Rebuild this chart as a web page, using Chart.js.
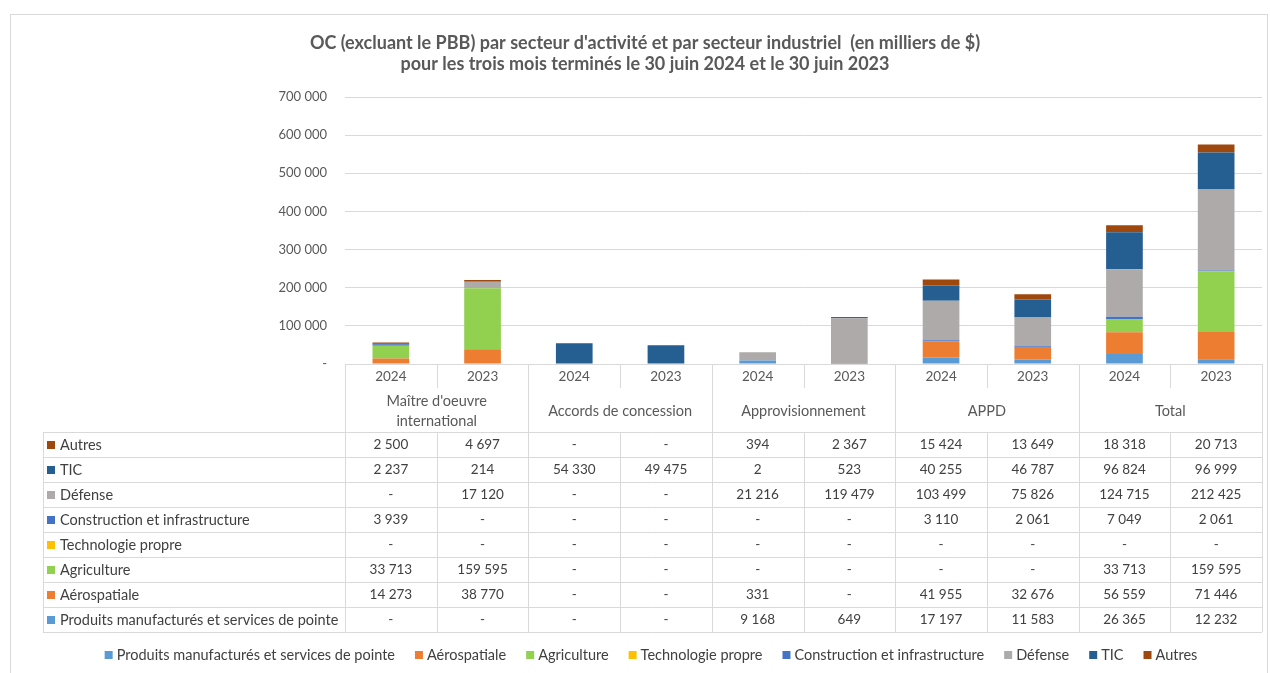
<!DOCTYPE html>
<html><head><meta charset="utf-8">
<script src="https://cdn.jsdelivr.net/npm/chart.js@4.4.1/dist/chart.umd.min.js"></script>
<style>html,body{margin:0;padding:0;background:#fff;overflow:hidden}#wrap{width:1270px;height:673px;position:relative}</style>
</head><body><div id="wrap"><canvas id="c" width="1270" height="673"></canvas></div>
<script>
const FONT = 'Lato, "Open Sans", sans-serif';
const years = ['2024','2023','2024','2023','2024','2023','2024','2023','2024','2023'];
const groups = [['Maître d\'oeuvre','international'],['Accords de concession'],['Approvisionnement'],['APPD'],['Total']];
const yTicks = [0,100000,200000,300000,400000,500000,600000,700000];
const titleLines = ['OC (excluant le PBB) par secteur d\'activité et par secteur industriel  (en milliers de $)','pour les trois mois terminés le 30 juin 2024 et le 30 juin 2023'];

const seriesNames = ['Produits manufacturés et services de pointe','Aérospatiale','Agriculture','Technologie propre','Construction et infrastructure','Défense','TIC','Autres'];
const seriesColors = ['#5B9BD5','#ED7D31','#92D050','#FFC000','#4472C4','#AEAAAA','#255E91','#9E480E'];

const produits     = [0,0,0,0,9168,649,17197,11583,26365,12232];
const aerospatiale = [14273,38770,0,0,331,0,41955,32676,56559,71446];
const agriculture  = [33713,159595,0,0,0,0,0,0,33713,159595];
const techPropre   = [0,0,0,0,0,0,0,0,0,0];
const construction = [3939,0,0,0,0,0,3110,2061,7049,2061];
const defense      = [0,17120,0,0,21216,119479,103499,75826,124715,212425];
const tic          = [2237,214,54330,49475,2,523,40255,46787,96824,96999];
const autres       = [2500,4697,0,0,394,2367,15424,13649,18318,20713];
const seriesData = [produits,aerospatiale,agriculture,techPropre,construction,defense,tic,autres];

function fmt(v){ if(!v) return '-'; return String(v).replace(/\B(?=(\d{3})+(?!\d))/g,' '); }

const datasets = seriesNames.map((n,i)=>({label:n,data:seriesData[i],backgroundColor:seriesColors[i],borderWidth:0,barPercentage:0.4,categoryPercentage:1}));

const TEXT = '#404040', AXIS = '#595959', GRID = '#D9D9D9';
const LBL = '14.5px '+FONT, NUM = '13.5px '+FONT;

const deco = {
  id:'deco',
  beforeDraw(chart){
    const ctx=chart.ctx;
    ctx.save();
    ctx.strokeStyle=GRID; ctx.lineWidth=1;
    ctx.strokeRect(10.5,14.5,1257,720);
    ctx.fillStyle=AXIS; ctx.font='bold 18px '+FONT; ctx.textAlign='center'; ctx.textBaseline='middle';
    ctx.fillText(titleLines[0],645,43);
    ctx.fillText(titleLines[1],645,64);
    ctx.restore();
  },
  afterDraw(chart){
    const ctx=chart.ctx, xs=chart.scales.x, area=chart.chartArea;
    const n=years.length, cw=(area.right-area.left)/n;
    const top=Math.round(area.bottom), yearBot=top+24, groupBot=top+68, rowH=25;
    const labelLeft=43;
    const rowsIdx=[7,6,5,4,3,2,1,0];
    const tableBot=groupBot+rowH*rowsIdx.length;
    ctx.save();
    ctx.strokeStyle=GRID; ctx.lineWidth=1;
    const line=(x1,y1,x2,y2)=>{ctx.beginPath();ctx.moveTo(x1,y1);ctx.lineTo(x2,y2);ctx.stroke();};
    for(let i=0;i<=n;i++){
      const x=Math.round(i<n? xs.getPixelForValue(i)-cw/2 : xs.getPixelForValue(n-1)+cw/2)+0.5;
      if(i%2===0) line(x,top,x,tableBot);
      else { line(x,top,x,yearBot); line(x,groupBot,x,tableBot); }
    }
    line(area.left,top+0.5,area.right,top+0.5);
    for(let r=0;r<=rowsIdx.length;r++){ const y=groupBot+r*rowH+0.5; line(labelLeft,y,area.right,y); }
    line(labelLeft+0.5,groupBot,labelLeft+0.5,tableBot);
    ctx.textAlign='center'; ctx.textBaseline='middle';
    ctx.fillStyle=AXIS; ctx.font=NUM;
    years.forEach((y,i)=>ctx.fillText(y,xs.getPixelForValue(i),top+12.5));
    ctx.font=LBL;
    groups.forEach((g,gi)=>{
      const cx=(xs.getPixelForValue(gi*2)+xs.getPixelForValue(gi*2+1))/2;
      const mid=(yearBot+groupBot)/2;
      if(g.length===1) ctx.fillText(g[0],cx,mid+1);
      else { ctx.fillText(g[0],cx,mid-9); ctx.fillText(g[1],cx,mid+11); }
    });
    rowsIdx.forEach((si,r)=>{
      const cy=groupBot+r*rowH+rowH/2+0.5;
      ctx.fillStyle=seriesColors[si]; ctx.fillRect(47,cy-4,8,8);
      ctx.fillStyle=TEXT; ctx.textAlign='left'; ctx.font=LBL; ctx.fillText(seriesNames[si],60,cy);
      ctx.textAlign='center'; ctx.font=NUM;
      seriesData[si].forEach((v,i)=>ctx.fillText(fmt(v),xs.getPixelForValue(i),cy));
    });
    ctx.font=LBL; ctx.textAlign='left';
    const gap=20, box=8, bg=4;
    const widths=seriesNames.map(s=>box+bg+ctx.measureText(s).width);
    const total=widths.reduce((a,b)=>a+b,0)+gap*(widths.length-1);
    let x=651-total/2; const ly=655;
    seriesNames.forEach((s,i)=>{
      ctx.fillStyle=seriesColors[i]; ctx.fillRect(x,ly-4,box,box);
      ctx.fillStyle=TEXT; ctx.fillText(s,x+box+bg,ly);
      x+=widths[i]+gap;
    });
    ctx.restore();
  }
};

new Chart(document.getElementById('c'),{
  type:'bar',
  data:{labels:years,datasets},
  options:{
    responsive:false, animation:false, devicePixelRatio:1,
    layout:{padding:{left:265,right:8,top:97,bottom:0}},
    plugins:{legend:{display:false},title:{display:false},tooltip:{enabled:false}},
    scales:{
      x:{stacked:true,grid:{display:false},border:{display:false},ticks:{display:false},
         afterFit(s){ s.height=673-364; }},
      y:{stacked:true,min:0,max:700000,
         afterBuildTicks(s){ s.ticks=yTicks.map(v=>({value:v})); },
         afterFit(s){ s.width=80; },
         grid:{color:GRID,drawTicks:false,lineWidth:1},
         border:{display:false},
         ticks:{padding:18,color:AXIS,font:{family:FONT,size:13},callback:v=>v===0?'-':fmt(v)}}
    }
  },
  plugins:[deco]
});
</script></body></html>
